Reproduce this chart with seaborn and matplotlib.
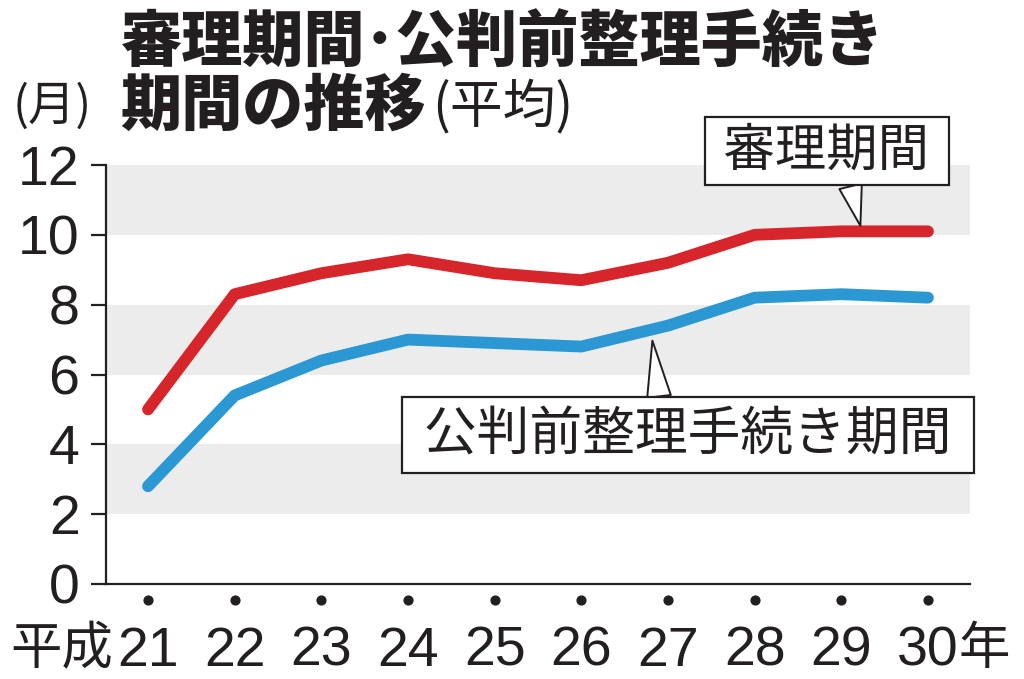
import matplotlib
matplotlib.use("Agg")
import matplotlib.pyplot as plt
import seaborn as sns
import pandas as pd

# ---- data ----
years = [21, 22, 23, 24, 25, 26, 27, 28, 29, 30]
shinri = [5.0, 8.3, 8.9, 9.3, 8.9, 8.7, 9.2, 10.0, 10.1, 10.1]
kohanmae = [2.8, 5.4, 6.4, 7.0, 6.9, 6.8, 7.4, 8.2, 8.3, 8.2]
series_names = ["審理期間", "公判前整理手続き期間"]
y_ticks = [0, 2, 4, 6, 8, 10, 12]
x_labels = [str(y) for y in years]
title_line1 = "審理期間･公判前整理手続き"
title_line2 = "期間の推移"
title_suffix = "(平均)"
unit_label = "(月)"
era_prefix = "平成"
year_suffix = "年"

RED = "#d7262b"
BLUE = "#2b97d3"
BAND = "#ececec"
INK = "#231f20"

sns.set_theme(style="white")
JP = ["Noto Sans CJK JP", "DejaVu Sans"]
NUM = ["Liberation Sans", "DejaVu Sans"]
plt.rcParams["font.family"] = JP

df = pd.DataFrame({
    "year": years * 2,
    "value": shinri + kohanmae,
    "series": [series_names[0]] * len(years) + [series_names[1]] * len(years),
})

fig = plt.figure(figsize=(10.24, 6.79), dpi=100)
ax = fig.add_axes([106 / 1024, 1 - 584 / 679, (970 - 106) / 1024, (584 - 165) / 679])

# alternating bands
for lo in (2, 6, 10):
    ax.axhspan(lo, lo + 2, color=BAND, lw=0, zorder=0)

sns.lineplot(data=df, x="year", y="value", hue="series",
             palette={series_names[0]: RED, series_names[1]: BLUE},
             linewidth=8.5, legend=False, ax=ax, zorder=3,
             solid_capstyle="round", solid_joinstyle="round")

ax.set_xlim(20.515, 30.485)
ax.set_ylim(0, 12)
ax.set_xlabel("")
ax.set_ylabel("")

for s in ("top", "right"):
    ax.spines[s].set_visible(False)
for s in ("left", "bottom"):
    ax.spines[s].set_color(INK)
    ax.spines[s].set_linewidth(1.6)

ax.set_yticks(y_ticks)
ax.set_yticklabels([str(v) for v in y_ticks], family=NUM, fontsize=40, color=INK)
ax.tick_params(axis="y", length=11, width=1.6, color=INK, pad=8, left=True)

ax.set_xticks(years)
ax.set_xticklabels(x_labels, family=NUM, fontsize=40, color=INK)
ax.tick_params(axis="x", length=0, pad=30)

# dots under the axis at each year
ax.scatter(years, [-0.038] * len(years), transform=ax.get_xaxis_transform(),
           s=40, color=INK, clip_on=False, zorder=4)

# era prefix and year suffix
ax.annotate(era_prefix, xy=(years[0], 0), xycoords=("data", "axes fraction"),
            xytext=(-25, -47), textcoords="offset points", ha="right", va="center",
            fontsize=37, color=INK, family=JP)
ax.annotate(year_suffix, xy=(years[-1], 0), xycoords=("data", "axes fraction"),
            xytext=(22, -47), textcoords="offset points", ha="left", va="center",
            fontsize=37, color=INK, family=JP)

# titles
t2 = fig.text(120 / 1024, 1 - 107 / 679, title_line2, fontsize=44, fontweight="black",
              ha="left", va="center", color=INK, family=JP)
fig.text(120 / 1024, 1 - 44 / 679, title_line1, fontsize=44, fontweight="black",
         ha="left", va="center", color=INK, family=JP)
fig.text(13 / 1024, 1 - 107 / 679, unit_label, fontsize=34,
         ha="left", va="center", color=INK, family=JP)
ax.annotate(title_suffix, xy=(1, 0.5), xycoords=t2, xytext=(5, 0),
            textcoords="offset points", ha="left", va="center",
            fontsize=38, color=INK, family=JP)

# callouts
ax.annotate(" " + series_names[0] + " ", xy=(29.22, 10.26), xytext=(28.83, 12.4),
            textcoords="data", ha="center", va="center", fontsize=37,
            color=INK, annotation_clip=False,
            bbox=dict(boxstyle="square,pad=0.15", fc="white", ec=INK, lw=1.6),
            arrowprops=dict(arrowstyle="wedge,tail_width=0.45,shrink_factor=0.5",
                            fc="white", ec=INK, lw=1.4,
                            relpos=(0.596, 0), shrinkA=0, shrinkB=0),
            zorder=5)
ax.annotate(" " + series_names[1] + " ", xy=(26.82, 6.97), xytext=(27.23, 4.26),
            textcoords="data", ha="center", va="center", fontsize=38,
            color=INK, annotation_clip=False,
            bbox=dict(boxstyle="square,pad=0.2", fc="white", ec=INK, lw=1.6),
            arrowprops=dict(arrowstyle="wedge,tail_width=0.45,shrink_factor=0.5",
                            fc="white", ec=INK, lw=1.4,
                            relpos=(0.45, 1), shrinkA=0, shrinkB=0),
            zorder=5)

fig.savefig("out.png", dpi=100, facecolor="white")
